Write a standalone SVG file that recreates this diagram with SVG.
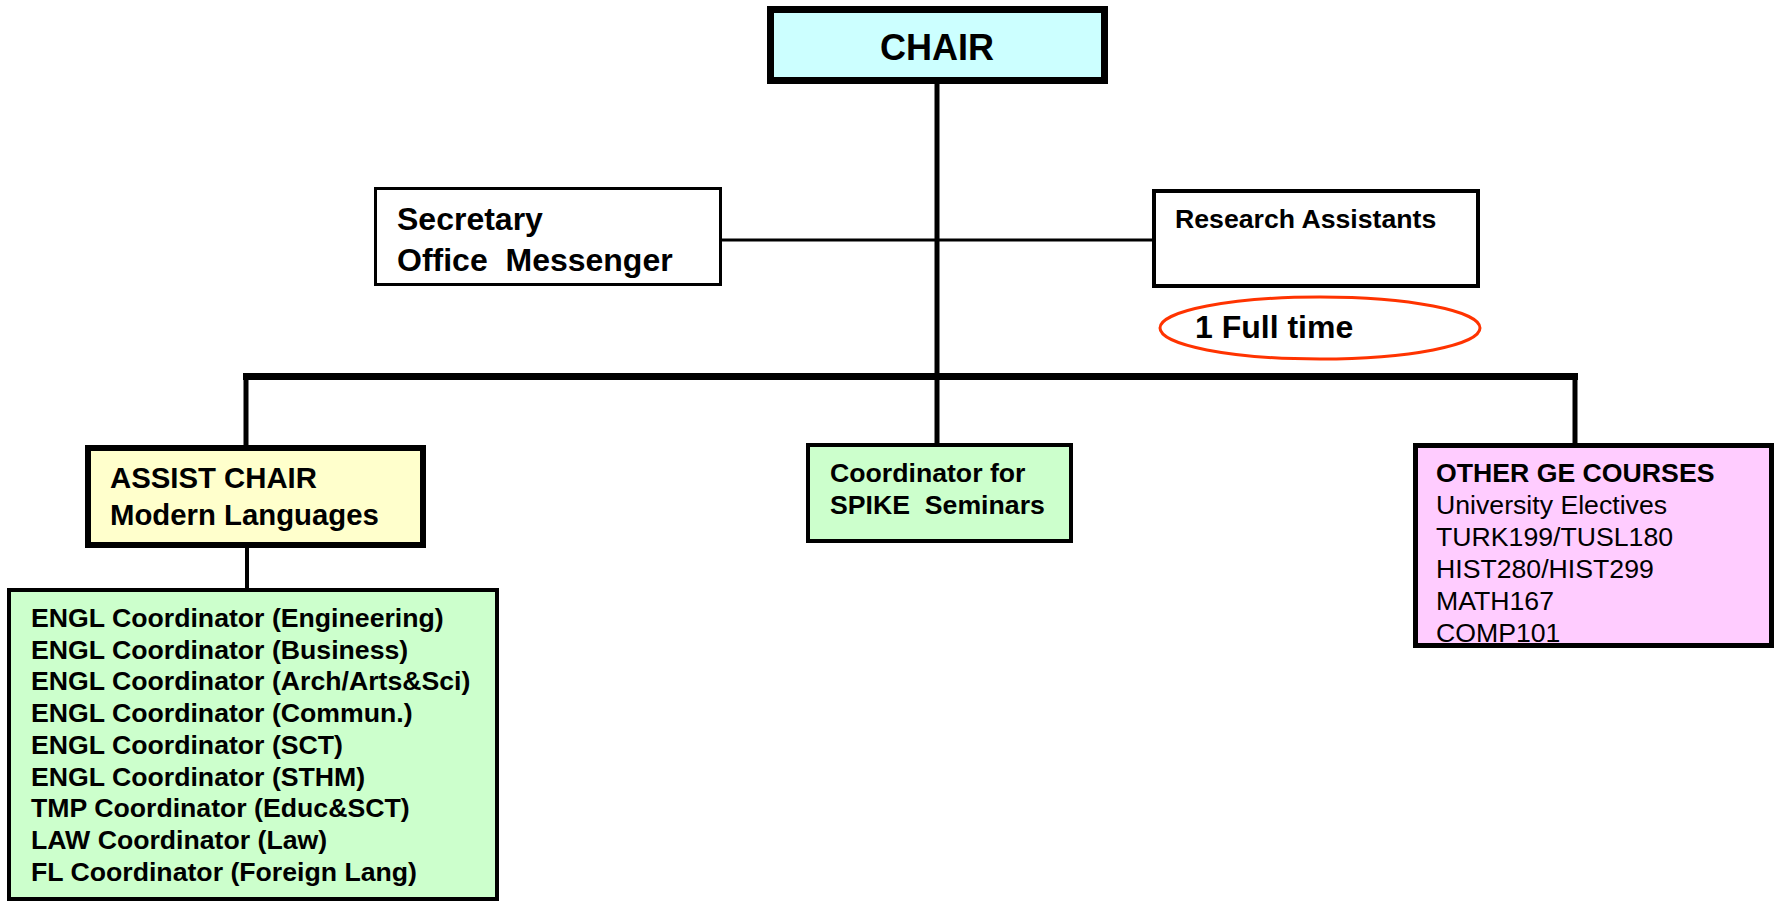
<svg xmlns="http://www.w3.org/2000/svg" width="1780" height="902" viewBox="0 0 1780 902">
<style>
  .t { font-family: "Liberation Sans", Arial, sans-serif; fill: #000; }
  .b { font-weight: bold; }
  .box { stroke: #000; }
  .conn { stroke: #000; fill: none; }
</style>
<rect x="0" y="0" width="1780" height="902" fill="#fff"/>
<g id="connectors">
  <line class="conn" x1="937" y1="84" x2="937" y2="443" stroke-width="5"/>
  <line class="conn" x1="722" y1="240" x2="1152" y2="240" stroke-width="3"/>
  <line class="conn" x1="243" y1="376.5" x2="1578" y2="376.5" stroke-width="7"/>
  <line class="conn" x1="246" y1="376" x2="246" y2="446" stroke-width="5"/>
  <line class="conn" x1="1575" y1="376" x2="1575" y2="444" stroke-width="5"/>
  <line class="conn" x1="247" y1="548" x2="247" y2="589" stroke-width="4"/>
</g>
<g id="chair">
  <rect class="box" x="770.5" y="9.5" width="334" height="71" fill="#CCFFFF" stroke-width="7"/>
  <text class="t b" x="937" y="60" font-size="36" text-anchor="middle">CHAIR</text>
</g>
<g id="secretary">
  <rect class="box" x="375.5" y="188.5" width="345" height="96" fill="#FFFFFF" stroke-width="3"/>
  <text class="t b" font-size="32" xml:space="preserve"><tspan x="397" y="230">Secretary</tspan><tspan x="397" y="271">Office  Messenger</tspan></text>
</g>
<g id="research">
  <rect class="box" x="1154" y="191" width="324" height="95" fill="#FFFFFF" stroke-width="4"/>
  <text class="t b" x="1175" y="228" font-size="26.67">Research Assistants</text>
</g>
<g id="fulltime">
  <ellipse cx="1320" cy="328" rx="160" ry="31" fill="none" stroke="#FF3300" stroke-width="3"/>
  <text class="t b" x="1195" y="338" font-size="32">1 Full time</text>
</g>
<g id="assist">
  <rect class="box" x="88" y="448" width="335" height="97" fill="#FFFFCC" stroke-width="6"/>
  <text class="t b" font-size="29.33"><tspan x="110" y="488">ASSIST CHAIR</tspan><tspan x="110" y="525">Modern Languages</tspan></text>
</g>
<g id="spike">
  <rect class="box" x="808" y="445" width="263" height="96" fill="#CCFFCC" stroke-width="4"/>
  <text class="t b" font-size="26.67" xml:space="preserve"><tspan x="830" y="482">Coordinator for</tspan><tspan x="830" y="514">SPIKE  Seminars</tspan></text>
</g>
<g id="otherge">
  <rect class="box" x="1415.5" y="445.5" width="356" height="200" fill="#FFCCFF" stroke-width="5"/>
  <text class="t" font-size="26.67">
    <tspan class="b" x="1436" y="482">OTHER GE COURSES</tspan>
    <tspan x="1436" y="514">University Electives</tspan>
    <tspan x="1436" y="546">TURK199/TUSL180</tspan>
    <tspan x="1436" y="578">HIST280/HIST299</tspan>
    <tspan x="1436" y="610">MATH167</tspan>
    <tspan x="1436" y="642">COMP101</tspan>
  </text>
</g>
<g id="engl">
  <rect class="box" x="9" y="590" width="488" height="309" fill="#CCFFCC" stroke-width="4"/>
  <text class="t b" font-size="26.67">
    <tspan x="31" y="627">ENGL Coordinator (Engineering)</tspan>
    <tspan x="31" y="659">ENGL Coordinator (Business)</tspan>
    <tspan x="31" y="690">ENGL Coordinator (Arch/Arts&amp;Sci)</tspan>
    <tspan x="31" y="722">ENGL Coordinator (Commun.)</tspan>
    <tspan x="31" y="754">ENGL Coordinator (SCT)</tspan>
    <tspan x="31" y="786">ENGL Coordinator (STHM)</tspan>
    <tspan x="31" y="817">TMP Coordinator (Educ&amp;SCT)</tspan>
    <tspan x="31" y="849">LAW Coordinator (Law)</tspan>
    <tspan x="31" y="881">FL Coordinator (Foreign Lang)</tspan>
  </text>
</g>
</svg>
